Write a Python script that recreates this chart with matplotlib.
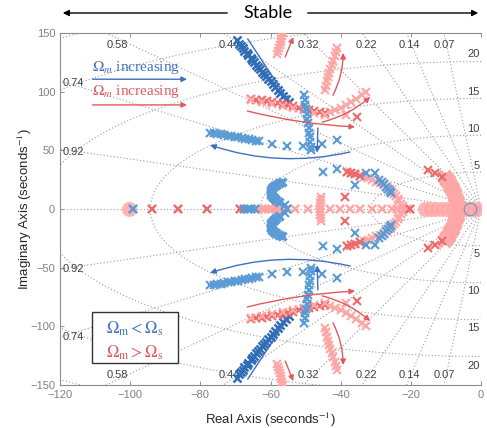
#Root locus style comparison of the two cases (Omega_m < Omega_s and Omega_m > Omega_s)
#points, upper half only; the lower half is the complex conjugate

import matplotlib.pyplot as plt
import numpy as np

plt.rcParams['mathtext.fontset'] = 'stix'

#---- data (upper half plane) ----
#dark blue branch coming down from the top
dblue_x = [-69.5, -69.0, -68.4, -67.9, -67.5, -66.8, -66.3, -65.7, -65.2, -64.6, -64.0, -63.5, -62.9,
           -62.4, -61.8, -61.2, -60.6, -60.0, -59.3, -58.6, -57.9, -57.2, -56.4, -55.6, -54.8]
dblue_y = [144, 141, 139, 137, 135, 133, 131, 129, 127, 125, 123, 121, 119,
           117, 115, 113, 111, 109, 106.5, 104, 101.5, 99, 96.5, 94, 91.5]
#blue vertical column
bcol_x = [-50.5, -50.3, -50.1, -49.9, -49.7, -49.5, -49.3, -49.1, -48.9, -48.7, -48.6, -48.5, -48.4]
bcol_y = [97, 93, 89, 85, 81, 77, 73, 69, 65, 61, 57, 53, 50]
#light blue branch going left
lblue_x = [-77.2, -76.2, -75.2, -74.2, -73.2, -72.2, -71.2, -70.2, -69.2, -68.2, -67.2, -66.2, -65.2, -64.2, -63.2]
lblue_y = [65, 64.5, 64, 63.5, 63, 62.5, 62, 61.5, 61, 60.3, 59.8, 59.3, 58.8, 58.3, 57.8]
#isolated blue crosses
bsc_x = [-59.6, -55.3, -50.7, -45.3, -41.0, -45.0, -41.0, -35.9, -32.8, -30.2, -55.9]
bsc_y = [55.4, 53.7, 53.7, 55.4, 58.8, 31.5, 34.1, 20.5, 30.7, 30.7, 3.4]
#blue cluster along the red arc
bcl_x = [-29.0, -28.3, -27.6, -27.0, -26.5, -26.0, -25.6]
bcl_y = [25.0, 23.0, 21.0, 19.0, 17.0, 15.2, 13.5]
#blue hook
hook_x = [-56.8, -57.6, -58.4, -59.0, -59.5, -59.8, -60.0, -60.0, -59.8, -59.4, -58.9, -58.3, -57.6]
hook_y = [23, 22, 20.8, 19.4, 18, 16.5, 15, 13.5, 12, 10.5, 9, 7.5, 6]
#blue on the real axis
baxis_x = [-99.2, -67.5, -66.5, -65.5, -64.5, -55.3]

#red branch going right
red_x = [-65.5, -64.0, -62.5, -61.0, -59.5, -58.0, -56.5, -55.0, -53.5, -52.0, -50.5, -49.0, -47.5, -46.0, -44.5]
red_y = [94, 93.3, 92.6, 91.9, 91.1, 90.2, 89.3, 88.4, 87.5, 86.5, 85.5, 84.5, 83.5, 82.5, 82]
#pink continuation curving up
pcur_x = [-43.0, -41.5, -40.0, -38.5, -37.0, -35.5, -34.0, -32.8, -38.5]
pcur_y = [82.5, 84, 86, 88.5, 91, 94, 97, 100, 80.5]
#pink branches near the top
ptop_x = [-56.5, -56.7, -56.9, -57.1, -57.4, -57.6, -57.9, -58.2]
ptop_y = [150, 147.5, 145, 142.5, 140, 137.5, 135, 132.5]
pf_x = [-41.0, -41.3, -41.7, -42.1, -42.5, -42.9, -43.3, -43.7, -44.0, -44.3, -44.5]
pf_y = [137, 133.5, 130, 126.5, 123, 119.5, 116, 112.5, 109, 105, 101]
#arc coming down onto the real axis near -23
arc_x = [-38.2, -37.0, -35.8, -34.6, -33.4, -32.2, -31.0, -29.8, -28.7, -27.7, -26.8, -26.0, -25.3,
         -24.7, -24.2, -23.8, -23.3, -22.8, -22.3]
arc_y = [31.5, 30.5, 29.5, 28.4, 27.3, 26.1, 24.8, 23.4, 21.9, 20.3, 18.6, 16.8, 14.9,
         12.9, 10.8, 8.5, 6.5, 4.5, 2.5]
#arc close to the origin
arcd_x = [-10.3, -9.7, -9.2, -8.7, -8.3, -7.9, -7.6, -7.3, -7.0, -6.8, -6.6, -6.5, -6.4, -6.3]
arcd_y = [27.3, 25, 22.7, 20.4, 18.1, 15.8, 13.5, 11.2, 8.9, 6.6, 4.3, 2.0, 1.0, 0.0]
rsc_x = [-15.1, -13.1, -11.1, -35.3, -38.8]
rsc_y = [33.0, 30.7, 27.3, 78.4, 10.0]
#pink column crossing the axis at -46
pcol_x = [-45.6, -45.7, -45.8, -45.9, -46.0]
pcol_y = [10, 7.5, 5, 2.5, 0]
#real axis
raxis_x = [-93.7, -86.3, -78.0, -68.7, -20.2]
paxis_x = [-63.5, -62.5, -61.5, -60.5, -59.5, -58.5, -57.5, -56.5, -53.0, -49.2, -43.0, -40.2,
           -37.3, -34.5, -31.1, -28.3, -25.4, -24.0, -22.6, -21.2]
pcirc_x = [-100.3, -16.0, -14.5, -13.0, -11.5, -10.0, -8.5, -7.0, -5.5, -4.0, -2.5, -1.0]
bcirc_x = [-3.1]

blue_dark = '#2f6db5'
blue = '#5b9bd5'
red = '#ec6a6a'
pink = '#ffa6a6'
gridc = '#9a9a9a'

fig = plt.figure(figsize=(4.87, 4.28), dpi=100)
ax = fig.add_axes([60/487, 1-385/428, 421/487, 352/428])

#---- s-plane grid ----
zetas = [0.07, 0.14, 0.22, 0.32, 0.44, 0.58, 0.74, 0.92]
for z in zetas:
    L = 500
    ax.plot([0, -L*z], [0, L*np.sqrt(1-z**2)], ls=(0, (1, 2)), color=gridc, lw=0.8)
    ax.plot([0, -L*z], [0, -L*np.sqrt(1-z**2)], ls=(0, (1, 2)), color=gridc, lw=0.8)
t = np.linspace(np.pi/2, 3*np.pi/2, 400)
for f in [5, 10, 15, 20, 25, 30]:
    r = 2*np.pi*f
    ax.plot(r*np.cos(t), r*np.sin(t), ls=(0, (1, 2)), color=gridc, lw=0.8)
ax.plot([-120, 0], [0, 0], ls=(0, (1, 2)), color=gridc, lw=0.8)
ax.plot([0, 0], [-150, 150], ls=(0, (1, 2)), color=gridc, lw=0.8)

lab = dict(fontsize=8, color='#404040', family='Liberation Sans', ha='center', va='center')
for z, xx in zip(['0.58', '0.44', '0.32', '0.22', '0.14', '0.07'], [-103.7, -71.8, -49.3, -32.6, -20.5, -10.5]):
    ax.text(xx, 140, z, **lab)
    ax.text(xx, -141.5, z, **lab)
for z, yy in zip(['0.74', '0.92'], [107, 49]):
    ax.text(-116.3, yy, z, **lab)
    ax.text(-116.3, -yy-2, z, **lab)
for w, yy in zip(['20', '15', '10', '5'], [132, 100, 68.5, 36.7]):
    ax.text(-0.3, yy, w, fontsize=8, color='#404040', family='Liberation Sans', ha='right', va='center')
    ax.text(-0.3, -yy-1.5, w, fontsize=8, color='#404040', family='Liberation Sans', ha='right', va='center')

#---- loci ----
def cross(x, y, c, ms=5.5, mew=1.5, z=3, **kw):
    x = np.asarray(x, float)
    y = np.asarray(y, float)
    ax.plot(np.concatenate([x, x]), np.concatenate([y, -y]), 'x', color=c, ms=ms, mew=mew, zorder=z, **kw)

ax.plot(pcirc_x, np.zeros(len(pcirc_x)), 'o', ms=10, color=pink, mec='#ffb8b8', alpha=0.85, zorder=2)
cross(dblue_x, dblue_y, blue_dark, ms=6, mew=1.8, z=3)
cross(ptop_x, ptop_y, pink, z=3)
cross(pf_x, pf_y, pink, z=3)
cross(pcur_x, pcur_y, pink, z=4)
cross(red_x, red_y, red, z=4)
cross(red_x[::2], np.array(red_y[::2]) - 1.5, pink, z=4)
cross(arc_x, arc_y, pink, z=4)
cross(arc_x[:4], arc_y[:4], red, z=4)
cross(arcd_x, arcd_y, pink, ms=8, mew=3, z=4)
cross(rsc_x, rsc_y, red, z=4)
cross(pcol_x, pcol_y, pink, z=4)
cross(paxis_x, np.zeros(len(paxis_x)), pink, z=4)
cross(raxis_x, np.zeros(len(raxis_x)), red, z=5)
cross(lblue_x, lblue_y, blue, z=5)
cross(bcol_x, bcol_y, blue, z=5)
cross(bsc_x, bsc_y, blue, z=5)
cross(bcl_x, bcl_y, blue, z=5)
cross(hook_x, hook_y, blue, ms=6, mew=2.5, z=5)
cross(baxis_x, np.zeros(len(baxis_x)), blue, z=5)
ax.plot(bcirc_x, [0], 'o', ms=9, mfc='none', mec=blue, mew=0.8, zorder=6)

#---- arrows ----
bl_arrow = '#3f6fc0'
rd_arrow = '#e05a5e'
def arr(x0, y0, x1, y1, c, rad=0.0):
    for s in [1, -1]:
        ax.annotate('', xy=(x1, s*y1), xytext=(x0, s*y0),
                    arrowprops=dict(arrowstyle='-|>', color=c, lw=1.0, mutation_scale=8,
                                    shrinkA=0, shrinkB=0, connectionstyle=f'arc3,rad={s*rad}'), zorder=7)

arr(-66.5, 145, -54.6, 91, bl_arrow)
arr(-46.5, 69, -46.7, 48, bl_arrow)
arr(-37.3, 48.6, -77.2, 54.5, bl_arrow, rad=-0.14)
arr(-66.6, 83.5, -35.9, 70, rd_arrow, rad=0.05)
arr(-45.3, 74, -31.6, 95.5, rd_arrow, rad=0.12)
arr(-55.8, 129.6, -53.5, 146.6, rd_arrow)
arr(-42.2, 97, -39.3, 133, rd_arrow, rad=0.12)

ax.annotate('', xy=(-83.8, 110.6), xytext=(-110.7, 110.6),
            arrowprops=dict(arrowstyle='-|>', color=bl_arrow, lw=1.0, mutation_scale=8, shrinkA=0, shrinkB=0))
ax.annotate('', xy=(-83.8, 88.7), xytext=(-110.7, 88.7),
            arrowprops=dict(arrowstyle='-|>', color=rd_arrow, lw=1.0, mutation_scale=8, shrinkA=0, shrinkB=0))
ax.text(-110.8, 121, r'$\Omega_m$ increasing', color='#4472c4', fontsize=11, family='Liberation Serif', va='center')
ax.text(-110.8, 100, r'$\Omega_m$ increasing', color='#e05a5e', fontsize=11, family='Liberation Serif', va='center')

#legend box
ax.text(-98.6, -102.3, r'$\Omega_\mathrm{m} < \Omega_\mathrm{s}$', color='#4472c4', fontsize=12, ha='center', va='center', zorder=9)
ax.text(-98.6, -122.8, r'$\Omega_\mathrm{m} > \Omega_\mathrm{s}$', color='#e05a5e', fontsize=12, ha='center', va='center', zorder=9)
ax.add_patch(plt.Rectangle((-110.9, -131.5), 24.5, 43.5, fc='white', ec='#333333', lw=1.0, zorder=8))

#---- axes styling ----
ax.set_xlim(-120, 0)
ax.set_ylim(-150, 150)
ax.set_xticks(range(-120, 1, 20))
ax.set_yticks(range(-150, 151, 50))
ax.tick_params(axis='both', direction='in', labelsize=8, colors='#808080', top=True, right=False,
               length=3, width=0.6)
for lbl in ax.get_xticklabels() + ax.get_yticklabels():
    lbl.set_family('Liberation Sans')
for s in ['left', 'bottom', 'top']:
    ax.spines[s].set_color('#8c8c8c')
    ax.spines[s].set_linewidth(0.8)
ax.spines['right'].set_visible(False)
ax.set_xlabel(r'Real Axis (seconds$^{-1}$)', fontsize=9.5, family='Liberation Sans', color='#262626', labelpad=8)
ax.set_ylabel(r'Imaginary Axis (seconds$^{-1}$)', fontsize=9.5, family='Liberation Sans', color='#262626', labelpad=-3)

#"Stable" header
fig.text(268/487, 1-13/428, 'Stable', fontsize=13, family='Lato', ha='center', va='center')
fig.patches.append(plt.matplotlib.patches.FancyArrowPatch((230/487, 1-13/428), (60/487, 1-13/428), transform=fig.transFigure,
                   arrowstyle='-|>', mutation_scale=9, color='black', lw=1.0))
fig.patches.append(plt.matplotlib.patches.FancyArrowPatch((305/487, 1-13/428), (481/487, 1-13/428), transform=fig.transFigure,
                   arrowstyle='-|>', mutation_scale=9, color='black', lw=1.0))

plt.savefig('out.png', dpi=100)
